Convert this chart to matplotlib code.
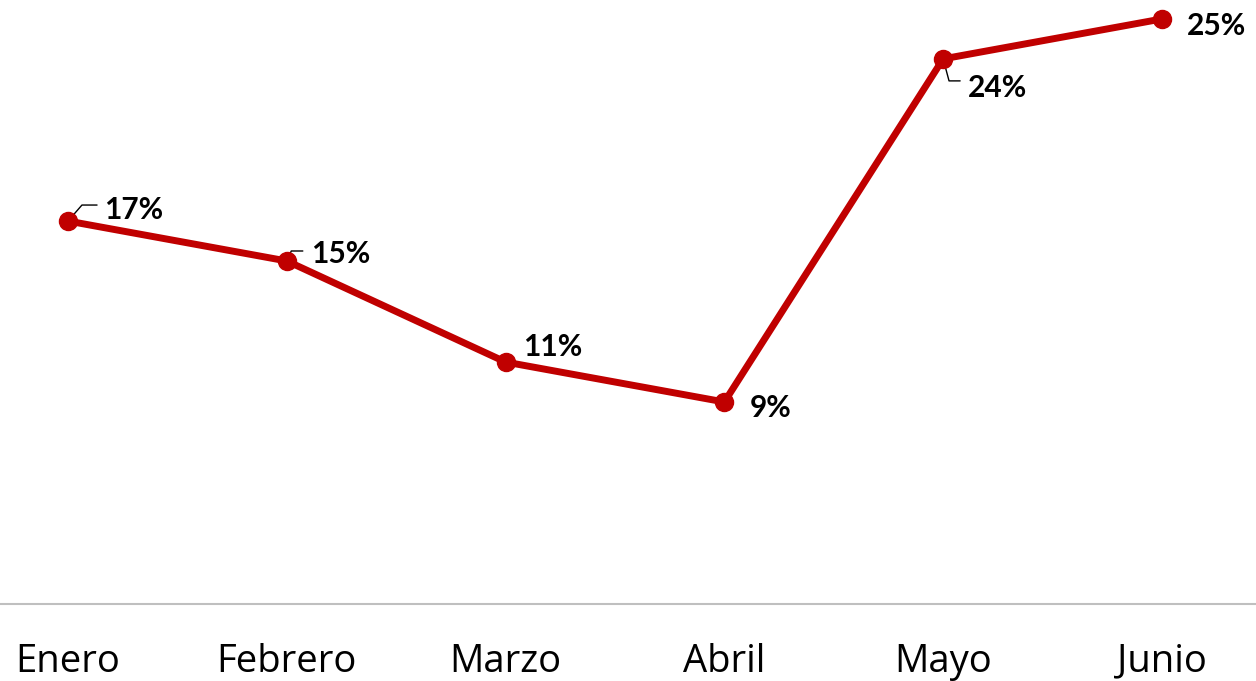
import matplotlib.pyplot as plt

meses = ["Enero", "Febrero", "Marzo", "Abril", "Mayo", "Junio"]
valores = [16.7, 15.0, 10.7, 9.0, 23.6, 25.3]   # % (se muestran redondeados)

# desplazamiento de las etiquetas respecto al punto (pixeles)
offs = [(36, 11), (24, 7), (17, 15), (25, -6), (25, -29), (25, -7)]
# lineas guia: (dx, dy) del extremo horizontal, angulo del tramo inclinado
guias = {0: (29, 16, 49), 1: (16, 10, 66), 4: (17, -22, -75)}

rojo = "#C00000"

fig = plt.figure(figsize=(12.56, 6.81), dpi=100)
ax = fig.add_axes([0, 77 / 681, 1, 604 / 681])

x = range(len(meses))
ax.plot(x, valores, color=rojo, lw=5, marker="o", ms=13, clip_on=False,
        solid_joinstyle="round", zorder=3)

for i, v in enumerate(valores):
    dx, dy = offs[i]
    ax.annotate(f"{v:.0f}%", (i, v), xytext=(dx, dy), textcoords="offset pixels",
                ha="left", va="center", fontsize=21.5, fontweight="bold",
                family="Lato", color="black", zorder=4)
    if i in guias:
        gx, gy, ang = guias[i]
        ax.annotate("", (i, v), xytext=(gx, gy), textcoords="offset pixels",
                    arrowprops=dict(arrowstyle="-", color="black", lw=1,
                                    shrinkA=0, shrinkB=0,
                                    connectionstyle=f"angle,angleA=0,angleB={ang},rad=0"),
                    zorder=2)

ax.set_xlim(-0.311, 5.43)
ax.set_ylim(0.404, 26.106)
ax.set_xticks(list(x))
ax.set_xticklabels(meses, fontsize=27.5, family="Open Sans")
ax.tick_params(axis="x", length=0, pad=28)
ax.set_yticks([])
for s in ["top", "left", "right"]:
    ax.spines[s].set_visible(False)
ax.spines["bottom"].set_color("#BFBFBF")
ax.spines["bottom"].set_linewidth(1.5)

fig.savefig("out.png", dpi=100)
